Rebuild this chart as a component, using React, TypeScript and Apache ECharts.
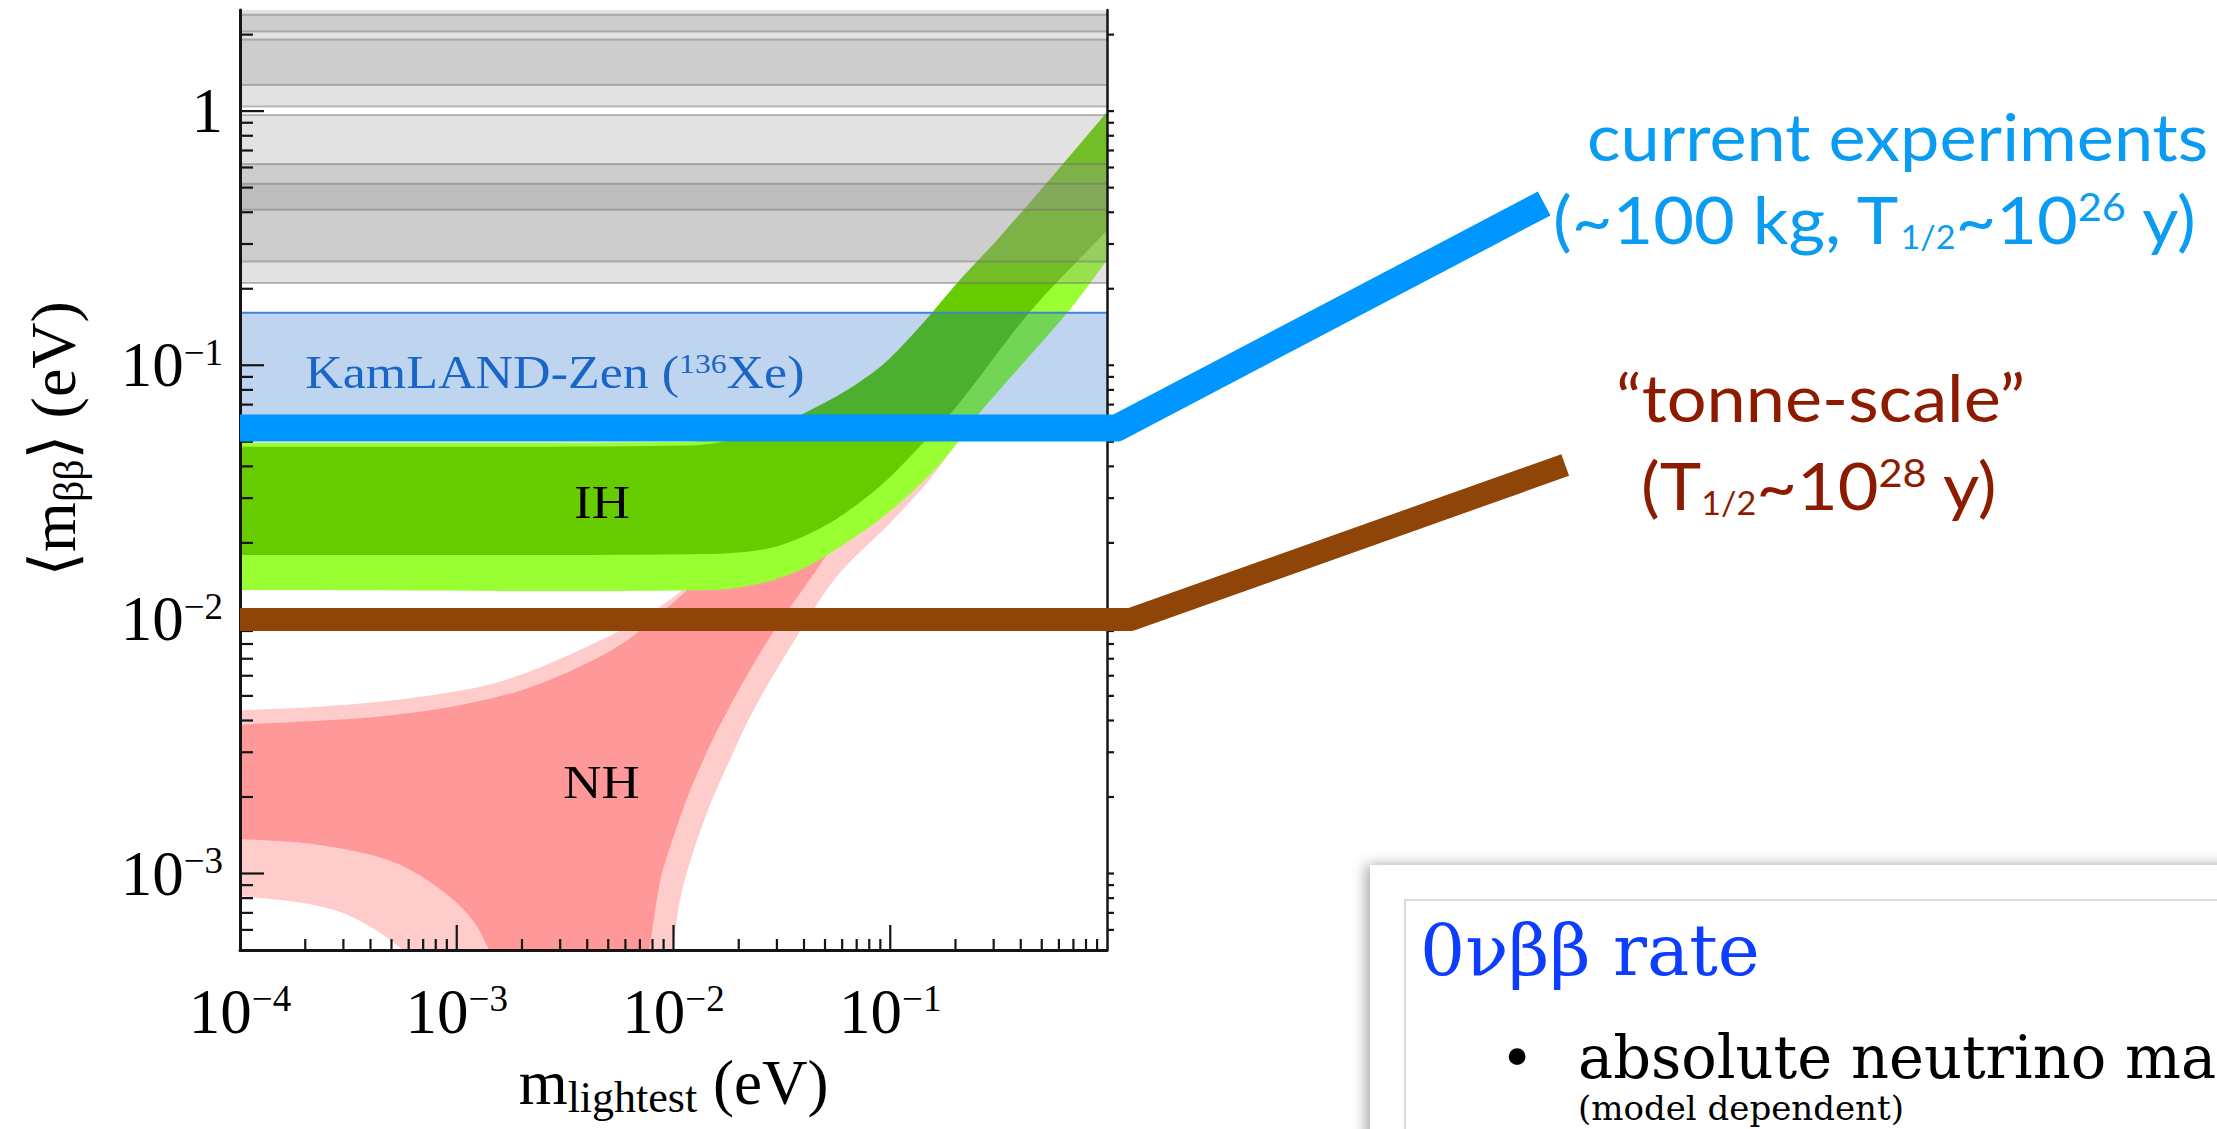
import React, { useEffect, useRef } from 'react';
import * as echarts from 'echarts';

// ---------- axis ranges ----------
const X_MIN = 1e-4;
const X_MAX = 1;
const Y_MIN = 5e-4;
const Y_MAX = 2.5;

// ---------- ticks ----------
const xMajorTicks = [1e-3, 1e-2, 1e-1];
const xMinorTicks = [
  2e-4, 3e-4, 4e-4, 5e-4, 6e-4, 7e-4, 8e-4, 9e-4,
  2e-3, 3e-3, 4e-3, 5e-3, 6e-3, 7e-3, 8e-3, 9e-3,
  0.02, 0.03, 0.04, 0.05, 0.06, 0.07, 0.08, 0.09,
  0.2, 0.3, 0.4, 0.5, 0.6, 0.7, 0.8, 0.9,
];
const yMajorTicks = [1e-3, 1e-2, 1e-1, 1];
const yMinorTicks = [
  6e-4, 7e-4, 8e-4, 9e-4,
  2e-3, 3e-3, 4e-3, 5e-3, 6e-3, 7e-3, 8e-3, 9e-3,
  0.02, 0.03, 0.04, 0.05, 0.06, 0.07, 0.08, 0.09,
  0.2, 0.3, 0.4, 0.5, 0.6, 0.7, 0.8, 0.9, 2,
];

// ---------- Normal hierarchy band edges [m_lightest, <m_bb>] (eV) ----------
const nh3sUpper = [
  [1e-4, 0.00438], [2.4e-4, 0.00454], [5.7e-4, 0.00486], [1.09e-3, 0.00528],
  [1.68e-3, 0.00578], [2.58e-3, 0.00662], [4.0e-3, 0.00782], [6.15e-3, 0.00937],
  [0.0108, 0.0129], [0.02, 0.022], [0.05, 0.052], [0.1, 0.098], [1.0, 0.9],
];
const nh3sLower = [
  [1e-4, 8.14e-4], [1.92e-4, 7.67e-4], [2.96e-4, 7.01e-4], [4.18e-4, 6.03e-4],
  [5.66e-4, 5.0e-4], [9.9e-3, 5.0e-4], [0.0108, 8.14e-4], [0.0123, 1.21e-3],
  [0.01465, 1.84e-3], [0.0182, 2.8e-3], [0.0226, 4.15e-3], [0.0293, 6.15e-3],
  [0.055, 0.0143], [0.1, 0.024], [0.151, 0.0353], [0.205, 0.0505],
  [0.257, 0.07], [0.66, 0.178], [1.0, 0.285],
];
const nh1sUpper = [
  [1e-4, 0.00385], [3.67e-4, 0.00409], [8.75e-4, 0.00448], [1.68e-3, 0.00505],
  [2.58e-3, 0.0057], [4.0e-3, 0.00673], [6.15e-3, 0.0083], [9.49e-3, 0.01123],
  [0.0126, 0.014], [0.02, 0.021], [0.05, 0.05], [0.1, 0.096], [1.0, 0.88],
];
const nh1sLower = [
  [1e-4, 1.368e-3], [1.92e-4, 1.32e-3], [3.67e-4, 1.206e-3], [5.66e-4, 1.069e-3],
  [8.02e-4, 8.91e-4], [1.04e-3, 7.44e-4], [1.236e-3, 6.21e-4], [1.41e-3, 5.0e-4],
  [7.74e-3, 5.0e-4], [8.71e-3, 9.47e-4], [9.9e-3, 1.36e-3], [0.0118, 2.07e-3],
  [0.01465, 3.16e-3], [0.0182, 4.54e-3], [0.0226, 6.33e-3], [0.0293, 9.1e-3],
  [0.0424, 0.0143], [0.07, 0.026], [0.2, 0.068], [1.0, 0.35],
];

// ---------- Inverted hierarchy band edges ----------
const ih3sUpper = [
  [1e-4, 0.0495], [0.012, 0.05], [0.02, 0.0525], [0.03, 0.0585], [0.04, 0.0646],
  [0.062, 0.079], [0.092, 0.1], [0.128, 0.133], [0.157, 0.162], [0.209, 0.216],
  [0.31, 0.31], [0.508, 0.502], [1.0, 0.99],
];
const ih3sLower = [
  [1e-4, 0.01305], [0.0151, 0.01305], [0.0273, 0.0141], [0.0412, 0.0161],
  [0.0587, 0.0193], [0.0889, 0.0246], [0.119, 0.0304], [0.16, 0.0387],
  [0.203, 0.0492], [0.257, 0.0646], [0.66, 0.162], [1.0, 0.259],
];
const ih1sUpper = [
  [1e-4, 0.0478], [0.012, 0.0483], [0.02, 0.0515], [0.03, 0.0578], [0.04, 0.0646],
  [0.062, 0.079], [0.092, 0.1], [0.128, 0.133], [0.157, 0.162], [0.209, 0.216],
  [0.31, 0.31], [0.508, 0.502], [1.0, 0.99],
];
const ih1sLower = [
  [1e-4, 0.0179], [0.0151, 0.0181], [0.0273, 0.019], [0.0412, 0.0215],
  [0.0587, 0.0254], [0.0889, 0.0332], [0.119, 0.0423], [0.2, 0.068],
  [0.44, 0.162], [1.0, 0.339],
];

// ---------- excluded regions (grey, overlapping) [lo, hi] eV ----------
const greyBands = [
  [1.042, 3.0], [2.059, 2.394], [1.268, 1.915],
  [0.2106, 0.966], [0.2563, 0.62], [0.409, 0.5175],
];
// KamLAND-Zen limit band [lo, hi] eV
const kamlandBand = [[0.061, 0.161]];

// ---------- sensitivity scribbles ----------
const currentSensitivity = [[1e-4, 0.0566], [1.11, 0.0566], [104, 0.433]];
const tonneSensitivity = [[1e-4, 0.01], [1.29, 0.01], [130, 0.0405]];

// ---------- styling ----------
const SERIF = '"Liberation Serif", "DejaVu Serif", serif';
const SANS = 'Lato, "Open Sans", sans-serif';
const TYPE = '"DejaVu Serif", serif';
const AXIS_COLOR = '#151515';
const BLUE_TXT = '#0a9bf2';
const RED_TXT = '#8c1b00';

const tickRich = {
  n: { fontFamily: SERIF, fontSize: 63, lineHeight: 63, color: '#000' },
  s: { fontFamily: SERIF, fontSize: 37, lineHeight: 37, color: '#000', verticalAlign: 'top' },
};

function decadeLabel(allowOne: boolean) {
  return (v: number) => {
    const e = Math.log10(v);
    const r = Math.round(e);
    if (Math.abs(e - r) > 1e-6) return '';
    if (r === 0) return allowOne ? '{n|1}' : '';
    return `{n|10}{s|\u2212${-r}}`;
  };
}

function bandSeries(name: string, upper: number[][], lower: number[][], color: string, z: number) {
  const pts = [...upper, ...lower.slice().reverse()];
  // corners (edge ends and points on the bottom axis) stay sharp
  const corner = pts.map((p, i) =>
    i === 0 || i === upper.length - 1 || i === upper.length || i === pts.length - 1 || p[1] <= Y_MIN * 1.0001
  );
  return {
    type: 'custom',
    name,
    coordinateSystem: 'cartesian2d',
    silent: true,
    clip: true,
    z,
    data: pts,
    renderItem: (params: any, api: any) => {
      if (params.dataIndex !== 0) return null;
      const cs = params.coordSys;
      const points: number[][] = [];
      pts.forEach((p, i) => {
        const c = api.coord(p);
        points.push(c);
        if (corner[i]) points.push([c[0], c[1]]);
      });
      return {
        type: 'polygon',
        shape: {
          points,
          smooth: 0.3,
          smoothConstraint: [[cs.x, cs.y], [cs.x + cs.width, cs.y + cs.height]],
        },
        style: { fill: color },
      };
    },
  };
}

// maps data to pixels with the axes' own log scale, continued past the axis ends
function projector(api: any) {
  const a = api.coord([X_MIN, Y_MIN]);
  const b = api.coord([X_MAX, Y_MAX]);
  const lx0 = Math.log10(X_MIN), lx1 = Math.log10(X_MAX);
  const ly0 = Math.log10(Y_MIN), ly1 = Math.log10(Y_MAX);
  return (p: number[]) => [
    a[0] + ((Math.log10(p[0]) - lx0) / (lx1 - lx0)) * (b[0] - a[0]),
    a[1] + ((Math.log10(p[1]) - ly0) / (ly1 - ly0)) * (b[1] - a[1]),
  ];
}

function scribbleSeries(name: string, pts: number[][], color: string, width: number) {
  return {
    type: 'custom',
    name,
    coordinateSystem: 'cartesian2d',
    silent: true,
    z: 30,
    data: pts,
    renderItem: (params: any, api: any) => {
      if (params.dataIndex !== 0) return null;
      const proj = projector(api);
      const points = pts.map(proj);
      return {
        type: 'polyline',
        shape: { points },
        style: { stroke: color, lineWidth: width, lineCap: 'butt', lineJoin: 'round', fill: 'none' },
      };
    },
  };
}

function tickSeries(data: number[][], dx: number, dy: number) {
  return {
    type: 'custom',
    coordinateSystem: 'cartesian2d',
    silent: true,
    z: 25,
    data,
    renderItem: (params: any, api: any) => {
      const c = api.coord([api.value(0), api.value(1)]);
      return {
        type: 'line',
        shape: { x1: c[0], y1: c[1], x2: c[0] + dx, y2: c[1] + dy },
        style: { stroke: AXIS_COLOR, lineWidth: 2.2 },
      };
    },
  };
}

function textSeries(anchor: number[], style: any, z: number, scaleX: number) {
  return {
    type: 'custom',
    coordinateSystem: 'cartesian2d',
    silent: true,
    z,
    data: [anchor],
    renderItem: (params: any, api: any) => {
      const c = api.coord([api.value(0), api.value(1)]);
      return { type: 'text', x: c[0], y: c[1], scaleX, style };
    },
  };
}

const sansRich = (color: string) => ({
  a: { fontFamily: SANS, fontSize: 66, lineHeight: 66, fill: color },
  b: { fontFamily: SANS, fontSize: 32, lineHeight: 32, fill: color, verticalAlign: 'bottom' },
  c: { fontFamily: SANS, fontSize: 39, lineHeight: 39, fill: color, verticalAlign: 'top' },
});

const option: any = {
  animation: false,
  backgroundColor: '#ffffff',
  grid: {
    left: 240, top: 10, width: 867, height: 940,
    containLabel: false, outerBoundsMode: 'none', show: false,
  },
  xAxis: {
    type: 'log', logBase: 10, min: X_MIN, max: X_MAX, z: 20,
    axisLine: { show: true, onZero: false, lineStyle: { color: AXIS_COLOR, width: 3 } },
    axisTick: { show: false }, minorTick: { show: false },
    splitLine: { show: false }, minorSplitLine: { show: false },
    axisLabel: {
      interval: 0, margin: 30, hideOverlap: false,
      formatter: decadeLabel(false), rich: tickRich,
    },
    name: '{m|m}{s|lightest}{m| (eV)}',
    nameLocation: 'middle', nameGap: 106, nameMoveOverlap: false,
    nameTextStyle: {
      rich: {
        m: { fontFamily: SERIF, fontSize: 63, lineHeight: 63, color: '#000', padding: [0, 0, 10, 0] },
        s: { fontFamily: SERIF, fontSize: 44, lineHeight: 44, color: '#000', verticalAlign: 'bottom' },
      },
    },
  },
  yAxis: [
    {
      type: 'log', logBase: 10, min: Y_MIN, max: Y_MAX, position: 'left', z: 20,
      axisLine: { show: true, onZero: false, lineStyle: { color: AXIS_COLOR, width: 3 } },
      axisTick: { show: false }, minorTick: { show: false },
      splitLine: { show: false }, minorSplitLine: { show: false },
      axisLabel: {
        interval: 0, margin: 17, hideOverlap: false,
        formatter: decadeLabel(true), rich: tickRich,
      },
      name: '{m|\u27e8m}{s|\u03b2\u03b2}{m|\u27e9 (eV)}',
      nameLocation: 'middle', nameGap: 150, nameRotate: 90, nameMoveOverlap: false,
      nameTextStyle: {
        padding: [0, 0, 0, 82],
        rich: {
          m: { fontFamily: SERIF, fontSize: 64, lineHeight: 64, color: '#000', padding: [0, 0, 10, 0] },
          s: { fontFamily: SERIF, fontSize: 42, lineHeight: 42, color: '#000', verticalAlign: 'bottom' },
        },
      },
    },
    {
      type: 'log', logBase: 10, min: Y_MIN, max: Y_MAX, position: 'right', z: 20,
      axisLine: { show: true, onZero: false, lineStyle: { color: AXIS_COLOR, width: 2.5 } },
      axisTick: { show: false }, axisLabel: { show: false },
      splitLine: { show: false },
    },
  ],
  series: [
    bandSeries('NH 3σ', nh3sUpper, nh3sLower, '#ffcccc', 2),
    bandSeries('NH 1σ', nh1sUpper, nh1sLower, '#ff9999', 3),
    bandSeries('IH 3σ', ih3sUpper, ih3sLower, '#99ff33', 4),
    bandSeries('IH 1σ', ih1sUpper, ih1sLower, '#66cc00', 5),
    {
      type: 'custom', name: 'KamLAND-Zen', coordinateSystem: 'cartesian2d', silent: true, z: 6,
      data: kamlandBand,
      renderItem: (params: any, api: any) => {
        const a = api.coord([X_MIN, api.value(1)]);
        const b = api.coord([X_MAX, api.value(0)]);
        return {
          type: 'group',
          children: [
            { type: 'rect', shape: { x: a[0], y: a[1], width: b[0] - a[0], height: b[1] - a[1] }, style: { fill: 'rgba(0,88,192,0.25)' } },
            { type: 'line', shape: { x1: a[0], y1: a[1], x2: b[0], y2: a[1] }, style: { stroke: '#3f84d4', lineWidth: 2 } },
          ],
        };
      },
    },
    {
      type: 'custom', name: 'excluded', coordinateSystem: 'cartesian2d', silent: true, z: 7,
      data: greyBands,
      renderItem: (params: any, api: any) => {
        const lo = api.value(0);
        const hiRaw = api.value(1);
        const hi = Math.min(hiRaw, Y_MAX);
        const a = api.coord([X_MIN, hi]);
        const b = api.coord([X_MAX, lo]);
        const children: any[] = [
          { type: 'rect', shape: { x: a[0], y: a[1], width: b[0] - a[0], height: b[1] - a[1] }, style: { fill: 'rgba(150,150,150,0.276)' } },
          { type: 'line', shape: { x1: a[0], y1: b[1], x2: b[0], y2: b[1] }, style: { stroke: 'rgba(110,110,110,0.45)', lineWidth: 2 } },
        ];
        if (hiRaw <= Y_MAX) {
          children.push({ type: 'line', shape: { x1: a[0], y1: a[1], x2: b[0], y2: a[1] }, style: { stroke: 'rgba(110,110,110,0.45)', lineWidth: 2 } });
        }
        return { type: 'group', children };
      },
    },
    textSeries([4.68e-3, 0.0287], { text: 'IH', fontFamily: SERIF, fontSize: 46, fill: '#000', align: 'center', verticalAlign: 'middle' }, 8, 1.15),
    textSeries([4.65e-3, 0.00228], { text: 'NH', fontFamily: SERIF, fontSize: 46, fill: '#000', align: 'center', verticalAlign: 'middle' }, 8, 1.15),
    textSeries([2.0e-4, 0.094], {
      text: '{k|KamLAND-Zen (}{s|136}{k|Xe)}',
      align: 'left', verticalAlign: 'middle',
      rich: {
        k: { fontFamily: SERIF, fontSize: 46, lineHeight: 46, fill: '#1a66c8' },
        s: { fontFamily: SERIF, fontSize: 28, lineHeight: 28, fill: '#1a66c8', verticalAlign: 'top' },
      },
    }, 8, 1.13),
    tickSeries(xMajorTicks.map((v) => [v, Y_MIN]), 0, -25),
    tickSeries(xMinorTicks.map((v) => [v, Y_MIN]), 0, -11),
    tickSeries(yMajorTicks.map((v) => [X_MIN, v]), 24, 0),
    tickSeries(yMinorTicks.map((v) => [X_MIN, v]), 13, 0),
    tickSeries([...yMajorTicks, ...yMinorTicks].map((v) => [X_MAX, v]), 7, 0),
    scribbleSeries('current experiments', currentSensitivity, '#0096ff', 27),
    scribbleSeries('tonne-scale', tonneSensitivity, '#8f4508', 23),
  ],
  graphic: {
    elements: [
      {
        type: 'rect', x: 1370, y: 865, z: 1,
        shape: { width: 900, height: 320 },
        style: { fill: '#ffffff', shadowBlur: 14, shadowColor: 'rgba(0,0,0,0.35)', shadowOffsetX: -4, shadowOffsetY: 0 },
      },
      {
        type: 'rect', x: 1405, y: 900, z: 2,
        shape: { width: 900, height: 320 },
        style: { fill: 'none', stroke: '#dadada', lineWidth: 2 },
      },
      {
        type: 'text', x: 1587, y: 136, z: 3, scaleX: 1.065,
        style: { text: 'current experiments', fontFamily: SANS, fontSize: 66, fill: BLUE_TXT, align: 'left', verticalAlign: 'middle' },
      },
      {
        type: 'text', x: 1553, y: 219, z: 3, scaleX: 1.065,
        style: { text: '{a|(~100 kg, T}{b|1/2}{a|~10}{c|26}{a| y)}', align: 'left', verticalAlign: 'middle', rich: sansRich(BLUE_TXT) },
      },
      {
        type: 'text', x: 1616, y: 397, z: 3, scaleX: 1.065,
        style: { text: '\u201ctonne-scale\u201d', fontFamily: SANS, fontSize: 66, fill: RED_TXT, align: 'left', verticalAlign: 'middle' },
      },
      {
        type: 'text', x: 1641, y: 485, z: 3, scaleX: 1.065,
        style: { text: '{a|(T}{b|1/2}{a|~10}{c|28}{a| y)}', align: 'left', verticalAlign: 'middle', rich: sansRich(RED_TXT) },
      },
      {
        type: 'text', x: 1420, y: 950, z: 3,
        style: { text: '0\u03bd\u03b2\u03b2 rate', fontFamily: TYPE, fontSize: 71, fill: '#0d3dff', align: 'left', verticalAlign: 'middle' },
      },
      {
        type: 'text', x: 1500, y: 1058, z: 3,
        style: { text: '\u2022', fontFamily: TYPE, fontSize: 58, fill: '#000', align: 'left', verticalAlign: 'middle' },
      },
      {
        type: 'text', x: 1578, y: 1057, z: 3,
        style: { text: 'absolute neutrino ma', fontFamily: TYPE, fontSize: 59, fill: '#000', align: 'left', verticalAlign: 'middle' },
      },
      {
        type: 'text', x: 1578, y: 1108, z: 3,
        style: { text: '(model dependent)', fontFamily: TYPE, fontSize: 34, fill: '#000', align: 'left', verticalAlign: 'middle' },
      },
    ],
  },
};

export default function App() {
  const ref = useRef<HTMLDivElement>(null);
  useEffect(() => {
    if (!ref.current) return;
    const chart = echarts.init(ref.current, null, { renderer: 'svg', width: 2217, height: 1129 });
    chart.setOption(option);
    return () => chart.dispose();
  }, []);
  return (
    <div
      ref={ref}
      style={{ position: 'absolute', left: 0, top: 0, width: 2217, height: 1129, background: '#ffffff', overflow: 'hidden' }}
    />
  );
}
